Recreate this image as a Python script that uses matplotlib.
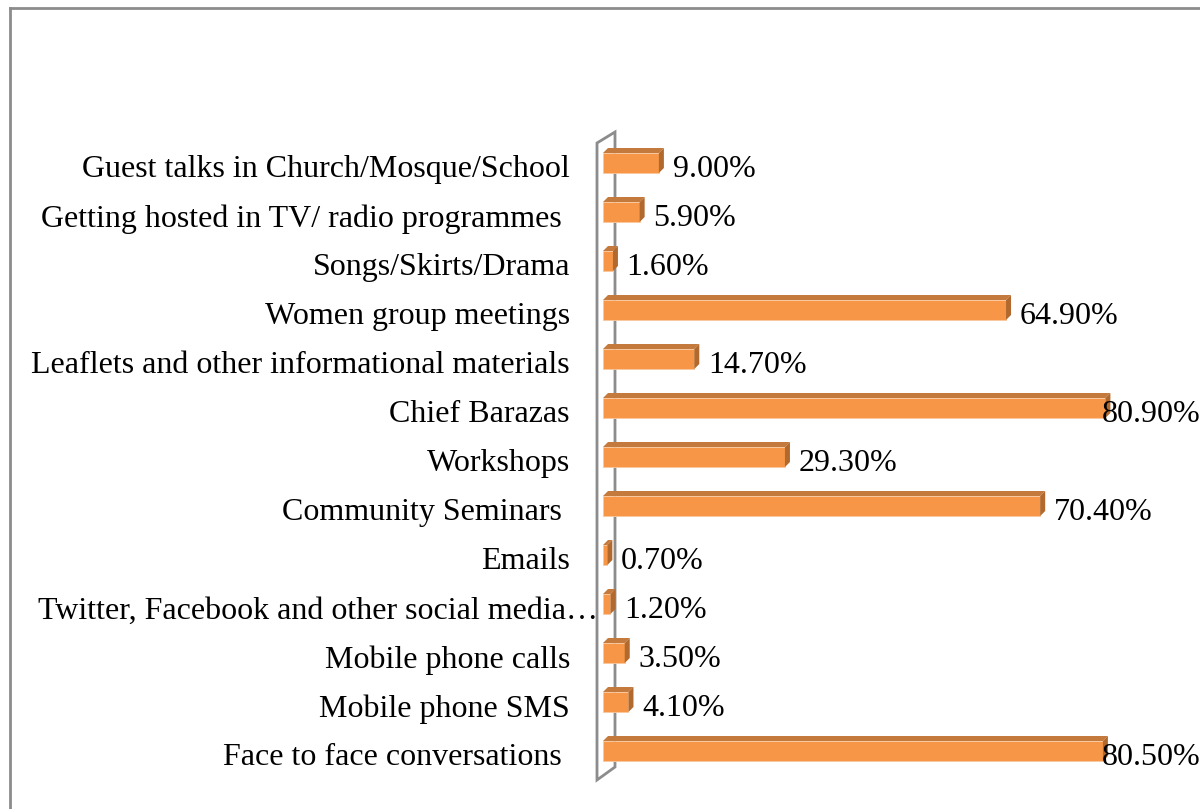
import matplotlib.pyplot as plt
from matplotlib.patches import Polygon
from matplotlib.lines import Line2D

# Data (top to bottom)
categories = [
    'Guest talks in Church/Mosque/School',
    'Getting hosted in TV/ radio programmes ',
    'Songs/Skirts/Drama',
    'Women group meetings',
    'Leaflets and other informational materials',
    'Chief Barazas',
    'Workshops',
    'Community Seminars ',
    'Emails',
    'Twitter, Facebook and other social media\u2026',
    'Mobile phone calls',
    'Mobile phone SMS',
    'Face to face conversations ',
]
values = [9.0, 5.9, 1.6, 64.9, 14.7, 80.9, 29.3, 70.4, 0.7, 1.2, 3.5, 4.1, 80.5]
value_labels = ['9.00%', '5.90%', '1.60%', '64.90%', '14.70%', '80.90%', '29.30%',
                '70.40%', '0.70%', '1.20%', '3.50%', '4.10%', '80.50%']

front = '#F79646'
top_col = '#C47A3C'
side_col = '#B2692D'
wall_col = '#8C8C8C'

plt.rcParams['font.family'] = ['Liberation Serif', 'DejaVu Serif']
fs = 23

fig = plt.figure(figsize=(12, 8.09), dpi=100)
ax = fig.add_axes([0, 0, 1, 1])
ax.axis('off')

# pixel mapping: x=0 at 603px, 6.21 px per %, rows 49 px apart
px_per = 6.21
ax.set_xlim(-603 / px_per, (1200 - 603) / px_per)
upp = 12 / 588
ax.set_ylim(12 + (809 - 751) * upp, -163 * upp)

ypos = list(range(len(categories)))
bh = 20 * upp
dx = 5 / px_per
dy = 5 * upp

# back wall
wall = Polygon([(-6 / px_per, -20 * upp), (12 / px_per, -31 * upp),
                (12 / px_per, 604 * upp), (-6 / px_per, 617 * upp)],
               closed=True, facecolor='white', edgecolor=wall_col, lw=2, zorder=1)
ax.add_patch(wall)

ax.barh(ypos, values, height=bh, color=front, edgecolor='#FBC89E', lw=0.6, zorder=3)
for y, v in zip(ypos, values):
    t = y - bh / 2
    b = y + bh / 2
    ax.add_patch(Polygon([(0, t), (v, t), (v + dx, t - dy), (dx, t - dy)],
                         closed=True, facecolor=top_col, edgecolor='none', zorder=3))
    ax.add_patch(Polygon([(v, t), (v + dx, t - dy), (v + dx, b - dy), (v, b)],
                         closed=True, facecolor=side_col, edgecolor='none', zorder=3))

for y, v, lab in zip(ypos, values, value_labels):
    ax.text(min(v + 2.2, 80.3), y + 0.14, lab, ha='left', va='center',
            fontsize=fs, color='black', zorder=4)

for y, cat in zip(ypos, categories):
    xr = -0.8 if cat.endswith('\u2026') else -33 / px_per
    ax.text(xr, y + 0.14, cat, ha='right', va='center', fontsize=fs,
            color='black', zorder=4)

# outer chart border (left and top edges visible)
fig.add_artist(Line2D([10 / 1200, 10 / 1200], [-0.01, (809 - 8) / 809],
                      transform=fig.transFigure, color=wall_col, lw=2))
fig.add_artist(Line2D([10 / 1200, 1.01], [(809 - 8) / 809, (809 - 8) / 809],
                      transform=fig.transFigure, color=wall_col, lw=2))

fig.savefig('out.png', dpi=100)
